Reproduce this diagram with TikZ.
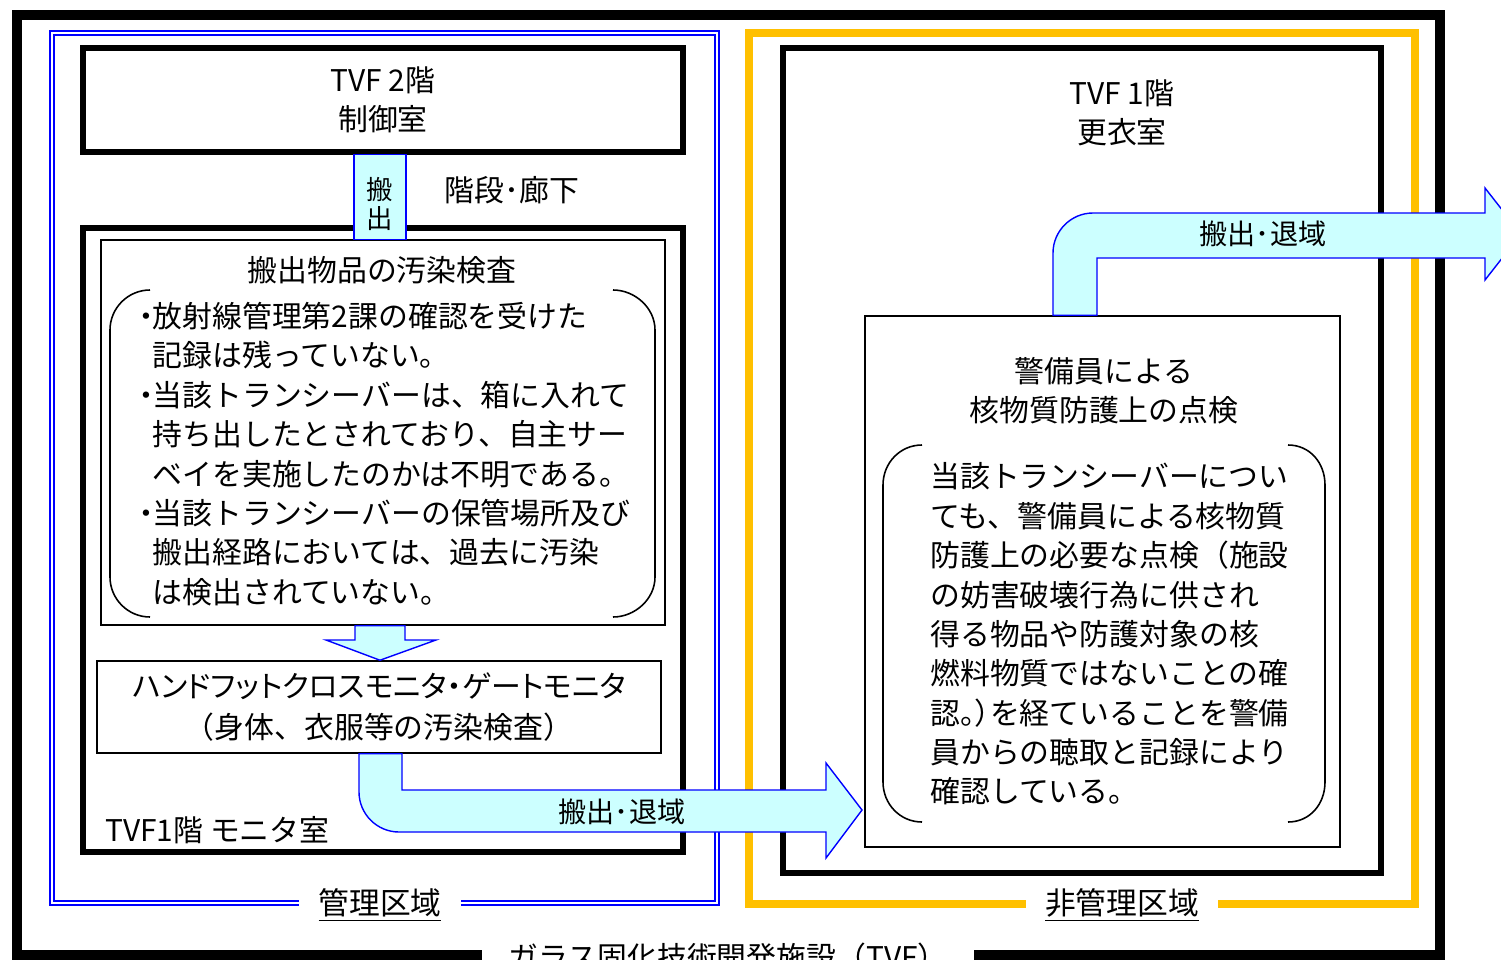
\documentclass[tikz,border=0pt]{standalone}
\usepackage{fontspec}
\setmainfont{Noto Sans CJK JP}
\newfontfamily\jpprop{Noto Sans CJK JP}[RawFeature=+palt]
\usetikzlibrary{calc}
\definecolor{flowfill}{HTML}{CCFFFF}
\definecolor{zoneline}{HTML}{FFC000}
\newcommand{\bul}{\makebox[7pt][c]{・}}
\newcommand{\ind}{\hspace*{7pt}}
\tikzset{
    room/.style={draw, line width=3pt, inner sep=0pt},
    panel/.style={draw, line width=0.9pt, inner sep=0pt},
    txt/.style={inner sep=0pt, font=\fontsize{17}{22.4}\selectfont},
    flow/.style={draw=blue, line width=0.8pt, fill=flowfill},
    paren/.style={line width=0.9pt},
    zonetag/.style={fill=white, inner ysep=3pt, font=\fontsize{17.5}{20}\selectfont}
}

\begin{document}
\begin{tikzpicture}[x=0.02cm, y=-0.02cm]
  \useasboundingbox (0,0) rectangle (1501,960);
  \clip (0,0) rectangle (1501,960);

  % zones
  \draw[line width=5.8pt] (17,15) rectangle (1440,955);
  \draw[blue, line width=1.1pt, double=white, double distance=1.4pt] (52,33) rectangle (717,903);
  \draw[zoneline, line width=4.5pt] (749,33) rectangle (1415,904);

  % rooms
  \node[room, txt, align=center, minimum width=12cm, minimum height=2.08cm] (ctrl) at (383,100) {TVF 2階\\制御室};
  \node[room, minimum width=12cm, minimum height=12.48cm] (mon) at (383,540) {};
  \node[room, minimum width=11.96cm, minimum height=16.5cm] (chg) at (1082,460.5) {};

  % panels
  \node[panel, minimum width=11.28cm, minimum height=7.7cm] (chk) at (383,432.5) {};
  \node[panel, txt, align=center, minimum width=11.28cm, minimum height=1.84cm,
        font=\jpprop\fontsize{17}{22.8}\selectfont] (hfm) at (379,707)
        {ハンドフットクロスモニタ・ゲートモニタ\\{\rmfamily （身体、衣服等の汚染検査）}};
  \node[panel, minimum width=9.5cm, minimum height=10.62cm] (grd) at (1102.5,581.5) {};

  % brackets
  \draw[paren] (150,290) .. controls (128,290) and (110,308) .. (110,330) -- (110,577)
               .. controls (110,599) and (128,617) .. (150,617);
  \draw[paren] (613,290) .. controls (635,290) and (655,308) .. (655,330) -- (655,577)
               .. controls (655,599) and (635,617) .. (613,617);
  \draw[paren] (922,445) .. controls (900,445) and (883,463) .. (883,485) -- (883,782)
               .. controls (883,804) and (900,822) .. (922,822);
  \draw[paren] (1288,445) .. controls (1310,445) and (1325,463) .. (1325,485) -- (1325,782)
               .. controls (1325,804) and (1310,822) .. (1288,822);

  % flow arrows
  \draw[flow] (354,0 |- ctrl.south) rectangle (406,0 |- chk.north);
  \draw[flow] (355,0 |- chk.south) -- (355,640) -- (326,640) -- (380,0 |- hfm.north)
              -- (436,640) -- (405,640) -- (405,0 |- chk.south) -- cycle;
  \draw[flow] (359,0 |- hfm.south) -- (359,792) .. controls (359,814) and (377,832) .. (399,832)
              -- (826,832) -- (826,858) -- (862,810) -- (826,763) -- (826,790)
              -- (402,790) -- (402,0 |- hfm.south) -- cycle;
  \draw[flow] (1053,0 |- grd.north) -- (1053,253) .. controls (1053,231) and (1071,213) .. (1093,213)
              -- (1485,213) -- (1485,188) -- (1521,234) -- (1485,280) -- (1485,258)
              -- (1097,258) -- (1097,0 |- grd.north) -- cycle;

  % labels
  \node[txt, align=center, font=\fontsize{15}{16}\selectfont] (outv) at (380,204) {搬\\出};
  \node[txt] (stair) at (512,190) {階段･廊下};
  \node[txt] (chkhead) at (382,270) {搬出物品の汚染検査};
  \node[txt, anchor=west, align=left] (chkbody) at (140,454)
       {\bul 放射線管理第2課の確認を受けた\\\ind 記録は残っていない。\\%
        \bul 当該トランシーバーは、箱に入れて\\\ind 持ち出したとされており、自主サー\\%
        \ind ベイを実施したのかは不明である。\\\bul 当該トランシーバーの保管場所及び\\%
        \ind 搬出経路においては、過去に汚染\\\ind は検出されていない。};
  \node[txt, anchor=west] (monlbl) at (105,830) {TVF1階 モニタ室};
  \node[txt, font=\fontsize{16}{18}\selectfont] (out1) at (622,812) {搬出･退域};
  \node[txt, align=center] (chglbl) at (1122,113) {TVF 1階\\更衣室};
  \node[txt, font=\fontsize{16}{18}\selectfont] (out2) at (1263,234) {搬出･退域};
  \node[txt, align=center] (grdhead) at (1104,391) {警備員による\\核物質防護上の点検};
  \node[txt, anchor=west, align=left] (grdbody) at (930,634)
       {当該トランシーバーについ\\ても、警備員による核物質\\防護上の必要な点検（施設\\%
        の妨害破壊行為に供され\\得る物品や防護対象の核\\燃料物質ではないことの確\\%
        {\jpprop 認。）}を経ていることを警備\\員からの聴取と記録により\\確認している。};

  % zone names
  \node[zonetag, inner xsep=11pt] (kanri) at (380,905) {\underline{管理区域}};
  \node[zonetag, inner xsep=11pt] (hikanri) at (1122,905) {\underline{非管理区域}};
  \node[zonetag, inner xsep=15pt, font=\fontsize{17}{20}\selectfont] (tvf) at (728,957) {ガラス固化技術開発施設（TVF）};
\end{tikzpicture}
\end{document}
